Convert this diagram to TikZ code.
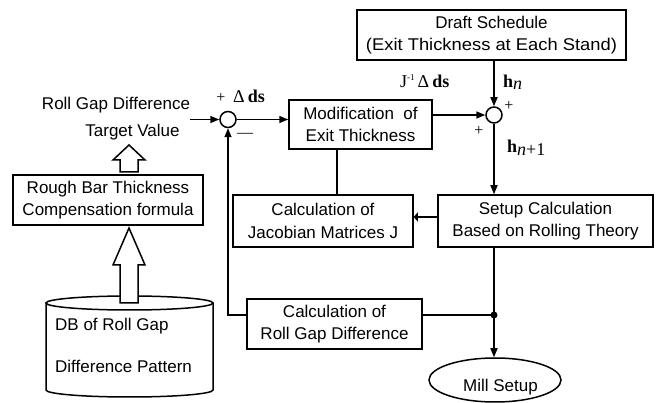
\documentclass[tikz,border=0pt]{standalone}
\usepackage{fontspec}
\usepackage{graphicx}
\setmainfont{Liberation Sans}
\newfontfamily\lblfont{Liberation Serif}
\usetikzlibrary{arrows.meta,shapes.geometric}

\tikzset{
  txt/.style={font=\fontsize{17}{22}\selectfont, inner sep=0pt},
  box/.style={draw, line width=1.5pt, align=center, inner sep=0pt,
              font=\fontsize{17}{22.5}\selectfont},
  sumpt/.style={draw, circle, line width=1.5pt, minimum size=16pt, inner sep=0pt},
  link/.style={line width=1.5pt},
  flow/.style={link, -{Triangle[length=9pt,width=7pt]}},
  sym/.style={font=\lblfont\fontsize{18}{20}\selectfont, inner sep=0pt},
  pm/.style={font=\lblfont\fontsize{16}{16}\selectfont, inner sep=0pt},
  hollow/.style={draw, line width=1.5pt, fill=white, line join=miter},
}

\begin{document}
\begin{tikzpicture}[x=1pt,y=-1pt]
\useasboundingbox (0,0) rectangle (665,403);

% blocks
\node[box, minimum width=269pt, minimum height=50pt] (draft) at (491.5,35)
  {Draft Schedule\\\scalebox{1.08}[1]{(Exit Thickness at Each Stand)}};
\node[box, minimum width=190pt, minimum height=50pt] (rough) at (108,200)
  {Rough Bar Thickness\\Compensation formula};
\node[box, minimum width=143pt, minimum height=49pt] (mod) at (360.5,124.5)
  {Modification\ \ of\\Exit Thickness};
\node[box, minimum width=180pt, minimum height=52pt] (jac) at (323,221)
  {Calculation of\\Jacobian Matrices J};
\node[box, minimum width=215pt, minimum height=52pt] (setup) at (545.5,221)
  {Setup Calculation\\Based on Rolling Theory};
\node[box, minimum width=175pt, minimum height=50pt] (rgd) at (334.5,324)
  {Calculation of\\Roll Gap Difference};
\node[draw, ellipse, line width=1.5pt, minimum width=132pt, minimum height=44pt,
      inner sep=0pt] (mill) at (495,380) {};
\node[txt, anchor=base west] (milltxt) at (463,392) {Mill Setup};

% summing points
\node[sumpt] (s1) at (228,119.5) {};
\node[sumpt] (s2) at (494,115) {};

% target value input
\node[txt, anchor=base] (rgdtxt) at (116,110) {Roll Gap Difference};
\node[txt, anchor=base] (tvtxt) at (132.5,137) {Target Value};
\coordinate (in) at (190,119.5);

% database cylinder
\draw[link, fill=white] (46,303) -- (46,390)
  arc[start angle=180, end angle=360, x radius=83.5pt, y radius=7pt] -- (213,303);
\draw[link] (129.5,303) ellipse[x radius=83.5pt, y radius=7pt];
\node[txt, anchor=base west] (db1) at (55,331) {DB of Roll Gap};
\node[txt, anchor=base west] (db2) at (55,373) {Difference Pattern};

% block arrows
\draw[hollow] (129,145) -- (145,160) -- (138,160) -- (138,172) -- (120,172)
  -- (120,160) -- (113,160) -- cycle;
\draw[hollow] (129,228) -- (145,265) -- (138,265) -- (138,303) -- (120,303)
  -- (120,265) -- (113,265) -- cycle;

% signal flow
\draw[flow] (in) -- (s1.west);
\draw[flow] (s1.east) -- (s1.east -| mod.west);
\draw[flow] (mod.east |- s2) -- (s2.west);
\draw[flow] (draft.south -| s2) -- (s2.north);
\draw[flow] (s2.south) -- (s2 |- setup.north);
\draw[link] ([xshift=-23.5pt]mod.south) -- ([xshift=-23.5pt]mod.south |- jac.north);
\draw[link, -{Triangle[length=4pt,width=9pt]}] ([yshift=4pt]setup.west) -- ([yshift=4pt]jac.east);

\coordinate (dot) at (494,315);
\draw[link] (s2 |- setup.south) -- (dot);
\draw[flow] (dot) -- (dot |- mill.north);
\draw[link] (rgd.east |- dot) -- (dot);
\draw[flow] (rgd.west |- dot) -- (s1 |- dot) -- (s1.south);
\fill (dot) circle[radius=3.5pt];

% signal labels
\node[pm] (p1) at (221,98) {+};
\node[sym, anchor=base west] (dds) at (233,103) {Δ\,\textbf{ds}};
\node[pm] (m1) at (245,135) {—};
\node[sym, anchor=base west] (jdds) at (400,88)
  {J\raisebox{7pt}{\fontsize{9}{9}\selectfont -1}\,Δ\,\textbf{ds}};
\node[sym, anchor=base west] (hn) at (503,88) {\textbf{h}\raisebox{-2pt}{\textit{n}}};
\node[pm] (p2) at (509,106) {+};
\node[pm] (p3) at (479,131) {+};
\node[sym, anchor=base west] (hn1) at (507,153) {\textbf{h}\raisebox{-3pt}{\textit{n}+1}};
\end{tikzpicture}
\end{document}
